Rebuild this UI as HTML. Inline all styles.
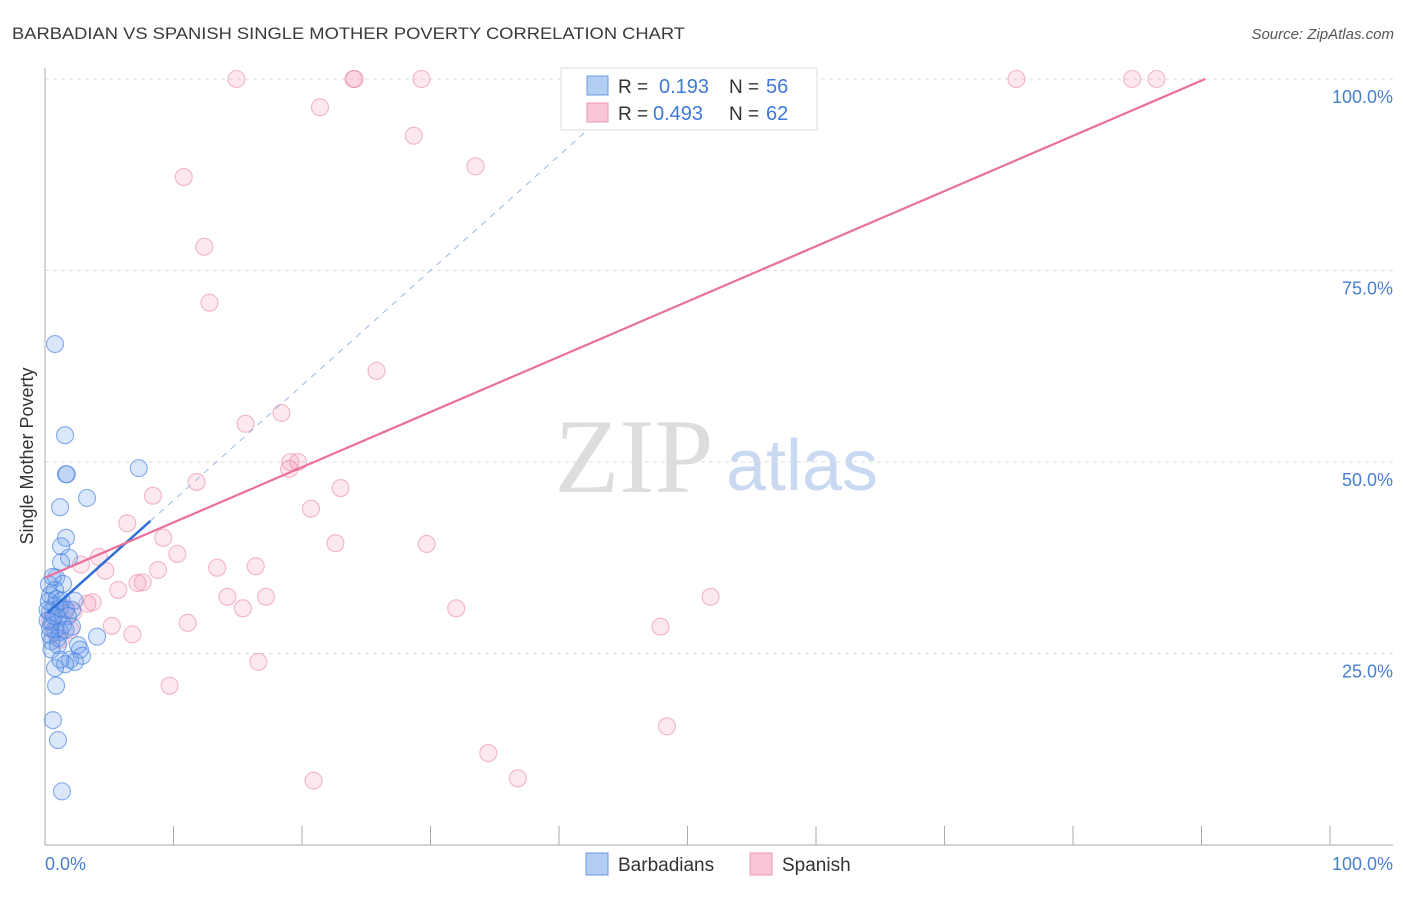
<!DOCTYPE html>
<html><head><meta charset="utf-8"><style>
body{margin:0;background:#fff;font-family:"Liberation Sans",sans-serif;}
svg text{font-family:"Liberation Sans",sans-serif;}
</style></head><body>
<svg id="chart" width="1406" height="892" xmlns="http://www.w3.org/2000/svg">
<text x="12" y="39" font-size="17" fill="#3a3a3a" textLength="673" lengthAdjust="spacingAndGlyphs">BARBADIAN VS SPANISH SINGLE MOTHER POVERTY CORRELATION CHART</text>
<text x="1394" y="39" font-size="15" fill="#555" text-anchor="end" font-style="italic">Source: ZipAtlas.com</text>
<text transform="translate(33,456) rotate(-90)" font-size="18" fill="#333" text-anchor="middle">Single Mother Poverty</text>
<g>
<text x="634" y="492" font-size="106" fill="#ddd" text-anchor="middle" style="font-family:'Liberation Serif',serif">ZIP</text>
<text x="802" y="490" font-size="72" fill="#c9d9f1" text-anchor="middle">atlas</text>
</g>
<g id="grid"></g>
<g id="axes"></g>
<g id="pts"></g>
<g id="lines"></g>
<g>
<rect x="561" y="68" width="256" height="62" fill="#fff" stroke="#ddd"/>
<rect x="587" y="76" width="21" height="19" fill="#b4cdf3" stroke="#6a9be6"/>
<rect x="587" y="103" width="21" height="19" fill="#f8c6d4" stroke="#ec98b2"/>
<text x="618" y="93" font-size="19" fill="#333">R =</text>
<text x="659" y="93" font-size="20" fill="#3f78d6">0.193</text>
<text x="729" y="93" font-size="19" fill="#333">N =</text>
<text x="766" y="93" font-size="20" fill="#3f78d6">56</text>
<text x="618" y="120" font-size="19" fill="#333">R =</text>
<text x="653" y="120" font-size="20" fill="#3f78d6">0.493</text>
<text x="729" y="120" font-size="19" fill="#333">N =</text>
<text x="766" y="120" font-size="20" fill="#3f78d6">62</text>
</g>
<g>
<rect x="586" y="853" width="22" height="22" fill="#b4cdf3" stroke="#6a9be6"/>
<text x="618" y="871" font-size="19" fill="#333">Barbadians</text>
<rect x="750" y="853" width="22" height="22" fill="#f8c6d4" stroke="#ec98b2"/>
<text x="782" y="871" font-size="19" fill="#333">Spanish</text>
</g>
</svg>
<script>
const blueX=[0.78,1.56,1.63,1.7,7.3,1.17,3.27,1.63,1.25,1.87,1.25,0.86,1.40,0.78,0.39,0.78,1.17,1.63,0.39,1.01,0.54,1.40,2.10,0.78,1.17,0.39,1.01,4.05,2.57,2.72,2.88,1.95,2.33,1.56,0.78,0.86,0.62,1.01,1.32,0.3,0.2,0.4,0.5,0.9,1.3,1.8,0.7,1.0,0.2,2.1,1.6,2.3,0.5,1.2,0.3,0.6];
const blueY=[65.4,53.5,48.4,48.4,49.2,44.1,45.3,40.1,39.0,37.5,36.9,34.9,34.1,33.3,32.6,31.3,30.9,30.7,30.4,29.6,29.1,28.7,28.5,28.1,27.8,27.4,27.0,27.2,26.1,25.5,24.7,24.2,23.9,23.6,23.1,20.8,16.3,13.7,7.0,31.8,29.3,28.3,26.6,32.1,31.9,29.9,29.9,26.1,30.7,30.7,28.1,31.9,25.5,24.2,34.0,35.0];
const pinkX=[14.9,24.0,24.1,29.3,41.8,52.4,75.6,84.6,86.5,21.4,28.7,33.5,10.8,12.4,12.8,25.8,18.4,15.6,19.1,19.7,19.0,8.4,20.7,11.8,23.0,6.4,22.6,9.2,29.7,4.2,10.3,2.8,4.7,16.4,13.4,8.8,5.7,7.6,7.2,14.2,17.2,3.7,3.3,15.4,32.0,51.8,2.2,5.2,11.1,6.8,47.9,16.6,9.7,48.4,34.5,20.9,36.8,0.8,1.2,0.4,1.6,2.0];
const pinkY=[100,100,100,100,100,100,100,100,100,96.3,92.6,88.6,87.2,78.1,70.8,61.9,56.4,55.0,50.0,50.0,49.1,45.6,43.9,47.4,46.6,42.0,39.4,40.1,39.3,37.6,38.0,36.6,35.8,36.4,36.2,35.9,33.3,34.3,34.2,32.4,32.4,31.7,31.5,30.9,30.9,32.4,30.4,28.6,29.0,27.5,28.5,23.9,20.8,15.5,12.0,8.4,8.7,27.8,26.8,29.3,30.9,28.1];
const yTicks=[25,50,75,100];
const yTickLabels=["25.0%","50.0%","75.0%","100.0%"];
const blueFit=[30,1.5]; const pinkFit=[34.9,0.721];
const NS="http://www.w3.org/2000/svg";
const sx=v=>45+v*12.85, sy=v=>845-v*7.66;
function mk(tag,attrs,parent){const e=document.createElementNS(NS,tag);for(const k in attrs)e.setAttribute(k,attrs[k]);document.getElementById(parent).appendChild(e);return e;}
yTicks.forEach((t,i)=>{
 const g=mk('line',{x1:45,x2:1393,y1:sy(t),y2:sy(t),stroke:'#ddd','stroke-dasharray':'4,4'},'grid');
 
 
 const l=mk('text',{x:1393,y:sy(t)+24,'font-size':18,fill:'#4a7fd0','text-anchor':'end'},'grid');
 l.textContent=yTickLabels[i];
 
 
});
mk('line',{x1:45,x2:45,y1:68,y2:845,stroke:'#aaa'},'axes');
mk('line',{x1:45,x2:1393,y1:845,y2:845,stroke:'#aaa'},'axes');
for(let i=1;i<=10;i++){const t=mk('line',{x1:sx(i*10),x2:sx(i*10),y1:826,y2:845,stroke:'#aaa'},'axes');
 
 }
const x0=mk('text',{x:45,y:870,'font-size':18,fill:'#4a7fd0'},'axes');x0.textContent='0.0%';


const x1=mk('text',{x:1393,y:870,'font-size':18,fill:'#4a7fd0','text-anchor':'end'},'axes');x1.textContent='100.0%';


pinkX.forEach((x,i)=>{const c=mk('circle',{cx:sx(x),cy:sy(pinkY[i]),r:8.5,fill:'rgba(244,150,178,0.22)',stroke:'rgba(232,130,160,0.55)','stroke-width':1.1},'pts');
 
 });
blueX.forEach((x,i)=>{const c=mk('circle',{cx:sx(x),cy:sy(blueY[i]),r:8.5,fill:'rgba(110,160,235,0.25)',stroke:'rgba(70,130,225,0.65)','stroke-width':1.1},'pts');
 
 });
const bEnd=(100-blueFit[0])/blueFit[1];
const bd=mk('line',{x1:sx(8.2),y1:sy(blueFit[0]+blueFit[1]*8.2),x2:sx(bEnd),y2:sy(100),stroke:'#9bb8e6','stroke-dasharray':'6,6','stroke-width':1},'lines');


const bl=mk('line',{x1:sx(0.2),y1:sy(blueFit[0]+blueFit[1]*0.2),x2:sx(8.2),y2:sy(blueFit[0]+blueFit[1]*8.2),stroke:'#2f6fd6','stroke-width':2.5},'lines');


const pEnd=(100-pinkFit[0])/pinkFit[1];
const pl=mk('line',{x1:sx(0),y1:sy(pinkFit[0]),x2:sx(pEnd),y2:sy(100),stroke:'#e8709a','stroke-width':2.2},'lines');


</script>
</body></html>
